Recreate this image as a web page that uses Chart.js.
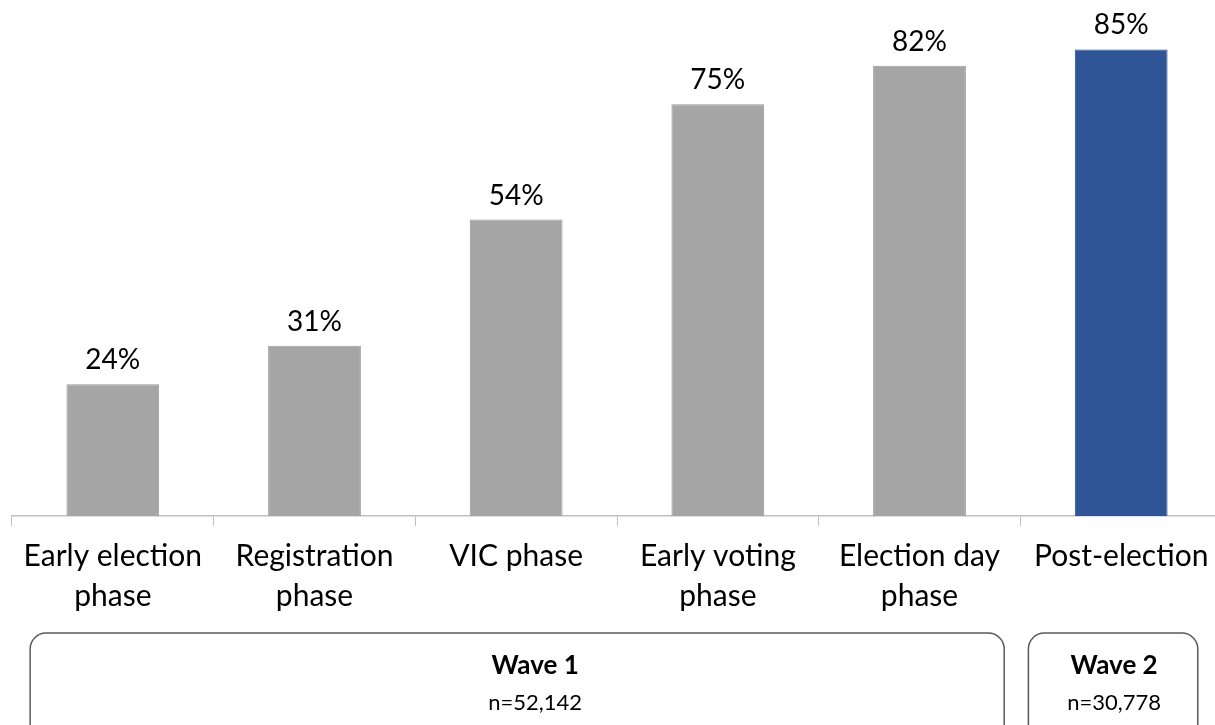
<!DOCTYPE html>
<html>
<head>
<meta charset="utf-8">
<script src="https://cdn.jsdelivr.net/npm/chart.js@4/dist/chart.umd.min.js"></script>
<style>
    body { margin: 0; background: #fff; overflow: hidden; }
    #wrap { width: 1234px; height: 725px; }
</style>
</head>
<body>
<div id="wrap"><canvas id="phaseChart"></canvas></div>
<script>
const categories = [
    ['Early election', 'phase'],
    ['Registration', 'phase'],
    'VIC phase',
    ['Early voting', 'phase'],
    ['Election day', 'phase'],
    'Post-election'
];
const values = [24, 31, 54, 75, 82, 85];
const barColors = ['#a5a5a5', '#a5a5a5', '#a5a5a5', '#a5a5a5', '#a5a5a5', '#2f5597'];
const waveNames = ['Wave 1', 'Wave 2'];
const waveSizes = ['n=52,142', 'n=30,778'];
const waveFirst = [0, 5];
const waveLast = [4, 5];

const fontFamily = 'Lato, "Open Sans", sans-serif';

// percentage labels above each bar
const valueLabels = {
    id: 'valueLabels',
    afterDatasetsDraw(chart) {
        const ctx = chart.ctx;
        const meta = chart.getDatasetMeta(0);
        ctx.save();
        ctx.font = '28px ' + fontFamily;
        ctx.fillStyle = '#000';
        ctx.textAlign = 'center';
        ctx.textBaseline = 'alphabetic';
        meta.data.forEach((bar, i) => {
            ctx.fillText(values[i] + '%', bar.x, bar.y - 15);
        });
        ctx.restore();
    }
};

function roundRect(ctx, x, y, w, h, r) {
    ctx.beginPath();
    ctx.moveTo(x + r, y);
    ctx.lineTo(x + w - r, y);
    ctx.arcTo(x + w, y, x + w, y + r, r);
    ctx.lineTo(x + w, y + h - r);
    ctx.arcTo(x + w, y + h, x + w - r, y + h, r);
    ctx.lineTo(x + r, y + h);
    ctx.arcTo(x, y + h, x, y + h - r, r);
    ctx.lineTo(x, y + r);
    ctx.arcTo(x, y, x + r, y, r);
    ctx.closePath();
}

// rounded boxes under the axis grouping the phases into waves
const waveBoxes = {
    id: 'waveBoxes',
    afterDraw(chart) {
        const ctx = chart.ctx;
        const x = chart.scales.x;
        const step = x.getPixelForValue(1) - x.getPixelForValue(0);
        const top = chart.chartArea.bottom + 117;
        ctx.save();
        waveNames.forEach((name, i) => {
            const left = x.getPixelForValue(waveFirst[i]) - step * (i === 0 ? 0.41 : 0.46);
            const right = x.getPixelForValue(waveLast[i]) + step * (i === 0 ? 0.42 : 0.38);
            ctx.strokeStyle = '#595959';
            ctx.lineWidth = 1.5;
            roundRect(ctx, left, top, right - left, 110, 16);
            ctx.stroke();
            // wave 1 text sits a little right of its box centre
            const cx = (left + right) / 2 + (i === 0 ? 18 : 1);
            ctx.fillStyle = '#000';
            ctx.textAlign = 'center';
            ctx.textBaseline = 'middle';
            ctx.font = 'bold 26px ' + fontFamily;
            ctx.fillText(name, cx, top + 33);
            ctx.font = '22px ' + fontFamily;
            ctx.fillText(waveSizes[i], cx, top + 70);
        });
        ctx.restore();
    }
};

new Chart(document.getElementById('phaseChart'), {
    type: 'bar',
    data: {
        labels: categories,
        datasets: [{
            data: values,
            backgroundColor: barColors,
            borderColor: barColors.map(c => c === '#2f5597' ? '#2a4c88' : '#999999'),
            borderWidth: 1,
            barPercentage: 0.46,
            categoryPercentage: 1
        }]
    },
    options: {
        responsive: true,
        maintainAspectRatio: false,
        animation: false,
        layout: { padding: { left: 12, right: 12, top: 0, bottom: 0 } },
        plugins: {
            legend: { display: false },
            tooltip: { enabled: false }
        },
        scales: {
            x: {
                afterFit(scale) { scale.height = 209; },
                grid: {
                    drawOnChartArea: false,
                    drawTicks: true,
                    tickLength: 10,
                    color: '#bfbfbf'
                },
                border: { color: '#bfbfbf', width: 1.5 },
                ticks: {
                    color: '#000',
                    padding: 10,
                    maxRotation: 0,
                    autoSkip: false,
                    font: { family: fontFamily, size: 30, lineHeight: 1.333 }
                }
            },
            y: {
                display: false,
                min: 0,
                max: 94
            }
        }
    },
    plugins: [valueLabels, waveBoxes]
});
</script>
</body>
</html>
